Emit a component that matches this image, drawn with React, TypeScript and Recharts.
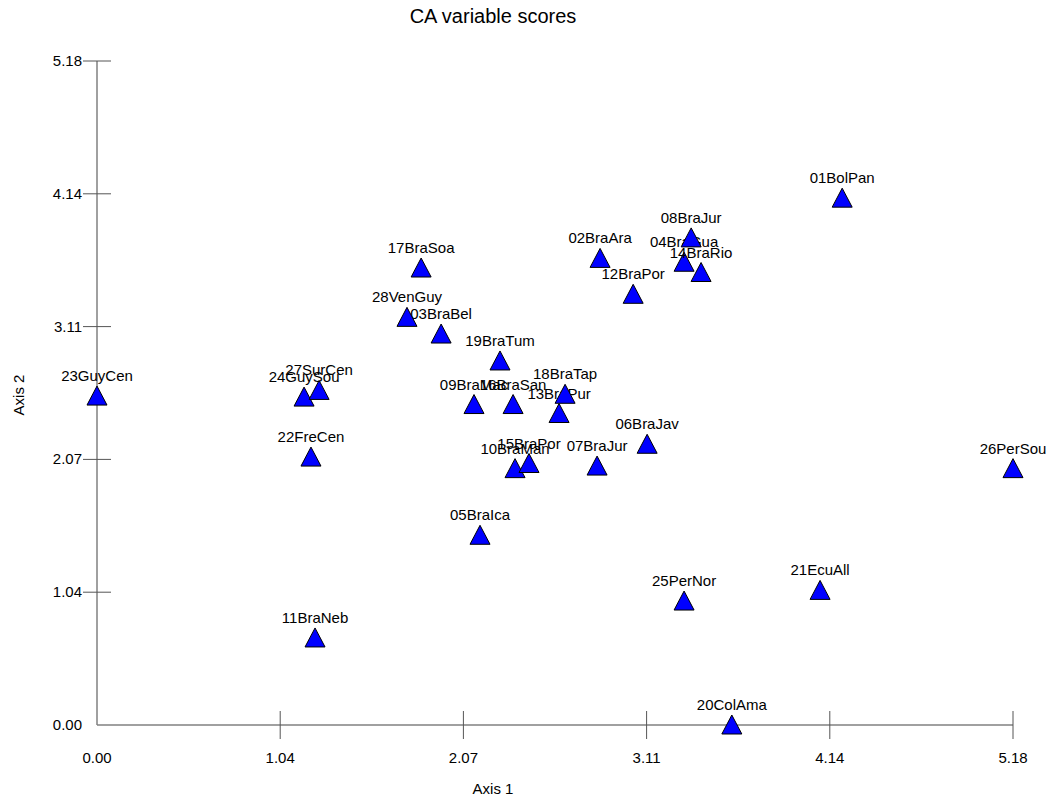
import { ScatterChart, Scatter, XAxis, YAxis } from "recharts"

const siteNames = [
  "01BolPan", "02BraAra", "03BraBel", "04BraGua", "05BraIca", "06BraJav", "07BraJur",
  "08BraJur", "09BraMac", "10BraMan", "11BraNeb", "12BraPor", "13BraPur", "14BraRio",
  "15BraPor", "16BraSan", "17BraSoa", "18BraTap", "19BraTum", "20ColAma", "21EcuAll",
  "22FreCen", "23GuyCen", "24GuySou", "25PerNor", "26PerSou", "27SurCen", "28VenGuy"
]
const axis1Scores = [
  4.214, 2.845, 1.946, 3.32, 2.166, 3.111, 2.828,
  3.36, 2.132, 2.364, 1.233, 3.032, 2.613, 3.416,
  2.443, 2.353, 1.833, 2.647, 2.279, 3.59, 4.089,
  1.21, 0, 1.171, 3.32, 5.18, 1.256, 1.753
]
const axis2Scores = [
  4.11, 3.64, 3.05, 3.61, 1.48, 2.19, 2.02,
  3.8, 2.5, 2.0, 0.679, 3.36, 2.43, 3.53,
  2.04, 2.5, 3.565, 2.58, 2.84, 0, 1.05,
  2.09, 2.566, 2.558, 0.967, 2.0, 2.61, 3.18
]
const tickValues = [0, 1.036, 2.072, 3.108, 4.144, 5.18]
const tickLabels = ["0.00", "1.04", "2.07", "3.11", "4.14", "5.18"]

const data = siteNames.map((name, i) => ({ name, x: axis1Scores[i], y: axis2Scores[i] }))

const FONT = "'Liberation Sans', Arial, Helvetica, sans-serif"

const labelFor = (v: number) => tickLabels[tickValues.indexOf(v)] ?? v.toFixed(2)

// triangle with the site label above it
const Marker = (props: any) => {
  const { cx, cy, payload } = props
  if (cx == null || cy == null) return null
  return (
    <g>
      <text x={cx} y={cy - 15} textAnchor="middle" fontSize={15} fontFamily={FONT} fill="#000">
        {payload.name}
      </text>
      <polygon
        points={`${cx},${cy - 10} ${cx + 10},${cy + 9} ${cx - 10},${cy + 9}`}
        fill="#0000FF"
        stroke="#000"
        strokeWidth={1}
      />
    </g>
  )
}

const XTick = (props: any) => {
  const { x, y, payload } = props
  return (
    <g>
      {payload.value !== 0 && <line x1={x} x2={x} y1={y - 14} y2={y + 14} stroke="#555" />}
      <text x={x} y={y + 38} textAnchor="middle" fontSize={15} fontFamily={FONT} fill="#000">
        {labelFor(payload.value)}
      </text>
    </g>
  )
}

const YTick = (props: any) => {
  const { x, y, payload } = props
  return (
    <g>
      {payload.value !== 0 && <line x1={x - 14} x2={x + 14} y1={y} y2={y} stroke="#555" />}
      <text x={x - 15} y={y + 5} textAnchor="end" fontSize={15} fontFamily={FONT} fill="#000">
        {labelFor(payload.value)}
      </text>
    </g>
  )
}

export default function App() {
  return (
    <div style={{ position: "absolute", left: 0, top: 0, width: 1050, height: 800, fontFamily: FONT, background: "#fff" }}>
      <div style={{ position: "absolute", left: 0, width: 986, top: 5, textAlign: "center", fontSize: 20 }}>
        CA variable scores
      </div>
      <div style={{ position: "absolute", left: 0, width: 986, top: 780, textAlign: "center", fontSize: 15 }}>
        Axis 1
      </div>
      <div
        style={{
          position: "absolute", left: 18, top: 395, fontSize: 15, whiteSpace: "nowrap",
          transform: "translate(-50%, -50%) rotate(-90deg)"
        }}
      >
        Axis 2
      </div>
      <ScatterChart width={1050} height={800} margin={{ top: 61, right: 37, left: 0, bottom: 0 }}>
        <XAxis
          type="number"
          dataKey="x"
          domain={[0, 5.18]}
          ticks={tickValues}
          height={75}
          tickSize={0}
          tickMargin={0}
          tickLine={false}
          axisLine={{ stroke: "#808080", strokeWidth: 1.5 }}
          tick={<XTick />}
          interval={0}
        />
        <YAxis
          type="number"
          dataKey="y"
          domain={[0, 5.18]}
          ticks={tickValues}
          width={97}
          tickSize={0}
          tickMargin={0}
          tickLine={false}
          axisLine={{ stroke: "#808080", strokeWidth: 1.5 }}
          tick={<YTick />}
          interval={0}
        />
        <Scatter data={data} shape={(p: any) => <Marker {...p} />} isAnimationActive={false} />
      </ScatterChart>
    </div>
  )
}
